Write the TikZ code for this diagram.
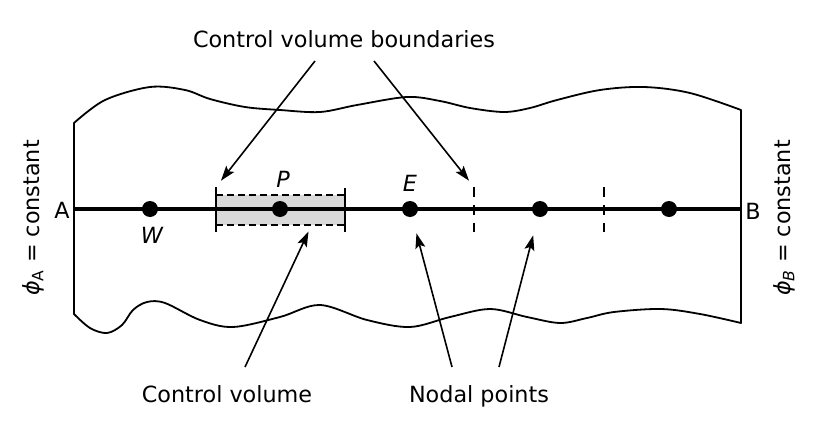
\documentclass[tikz,border=0pt]{standalone}
\usepackage{fontspec}
\setmainfont{DejaVu Sans}
\usetikzlibrary{positioning, arrows.meta}

\begin{document}
\begin{tikzpicture}[
    x=1pt, y=-1pt,
    >={Stealth[length=15pt, width=10pt, inset=3pt]},
    lbl/.style={font=\fontsize{22.3}{26}\selectfont, inner sep=0pt, anchor=base},
    ilbl/.style={lbl, font=\fontsize{22.3}{26}\selectfont\itshape},
    nodept/.style={circle, fill=black, inner sep=0pt, minimum size=16pt},
    outline/.style={line width=1.8pt, line join=round},
    axis/.style={line width=3.2pt},
    face/.style={line width=1.8pt},
    faced/.style={line width=1.8pt, dash pattern=on 10pt off 8pt},
    cvbox/.style={fill=black!15, draw=none, minimum width=129pt, minimum height=30pt, inner sep=0pt},
    cvedge/.style={line width=1.7pt, dash pattern=on 7pt off 4pt},
    arr/.style={->, line width=1.6pt},
]
\useasboundingbox (0,0) rectangle (834,420);

% Domain
\draw[outline] plot[smooth, tension=0.55] coordinates {(74,123) (105,100) (150,87) (185,90) (210,99) (245,107) (280,110) (320,112) (357,105) (407,97) (440,101) (470,108) (504,112) (530,108) (557,100) (600,90) (644,87) (690,93) (741,110)}
    -- (741,323)
    -- plot[smooth, tension=0.55] coordinates {(741,323) (700,314) (661,309) (614,312) (587,318) (560,323) (527,317) (490,309) (450,317) (410,327) (367,320) (320,305) (280,317) (233,327) (200,320) (165,303) (147,302) (133,310) (122,325) (107,333) (90,328) (74,314)}
    -- cycle;

% Control volume
\node[cvbox] (cv) at (280.5,210) {};
\draw[cvedge] (cv.north west) -- (cv.north east);
\draw[cvedge] (cv.south west) -- (cv.south east);
\coordinate (wface) at (216,187);
\coordinate (eface) at (474,187);
\draw[face] (wface) -- (216,232);
\draw[face] (345,188) -- (345,232);

% Grid line
\node[lbl] (A) at (62,218) {A};
\node[lbl] (B) at (753,219) {B};
\draw[axis] (74,209) -- (741,209);
\draw[faced] (eface) -- (474,232);
\draw[faced] (604,187) -- (604,232);

% Nodes
\node[nodept] (W) at (150,209) {};
\node[nodept] (P) at (280,209) {};
\node[nodept] (E) at (410,209) {};
\node[nodept] (EE) at (540,209) {};
\node[nodept] (EEE) at (669,209) {};
\node[ilbl] at (152,243) {W};
\node[ilbl] at (283,187) {P};
\node[ilbl] at (410,191) {E};

% Boundary values
\node[lbl, anchor=center, rotate=90] (phiA) at (33,218) {{\itshape ϕ}\textsubscript{A} = constant};
\node[lbl, anchor=center, rotate=90] (phiB) at (784,218) {{\itshape ϕ}\textsubscript{\itshape B} = constant};

% Labels
\node[lbl] (cvb) at (344,48) {Control volume boundaries};
\node[lbl] (cvl) at (227,402) {Control volume};
\node[lbl] (np) at (479,402) {Nodal points};

\coordinate (cvb-a) at ([xshift=-29pt, yshift=-13pt]cvb.base);
\coordinate (cvb-b) at ([xshift=30pt, yshift=-13pt]cvb.base);
\coordinate (cvl-a) at ([xshift=18pt, yshift=35pt]cvl.base);
\coordinate (np-a) at ([xshift=-27pt, yshift=35pt]np.base);
\coordinate (np-b) at ([xshift=20pt, yshift=35pt]np.base);
\coordinate (cvin) at ([xshift=31pt]cv.south);

% Arrows
\draw[arr, shorten >=8pt] (cvb-a) -- (wface);
\draw[arr, shorten >=8pt] (cvb-b) -- (eface);
\draw[arr, shorten >=7pt] (cvl-a) -- (cvin);
\draw[arr, shorten >=17pt] (np-a) -- (E);
\draw[arr, shorten >=19pt] (np-b) -- (EE);

\end{tikzpicture}
\end{document}
